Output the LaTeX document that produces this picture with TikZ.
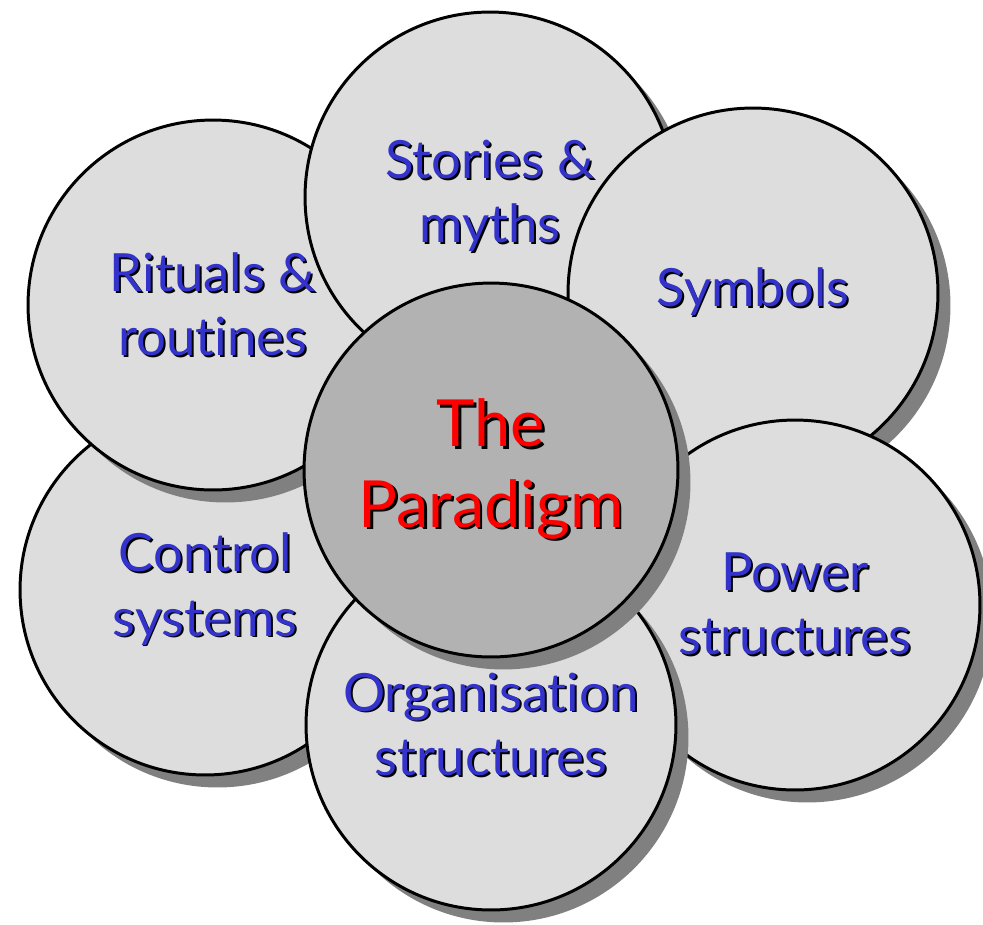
\documentclass[tikz,border=0pt]{standalone}
\usepackage{fontspec}
\setmainfont{Lato}[Ligatures=NoCommon]
\usepackage{tikz}
\usetikzlibrary{shadows}
\definecolor{discFill}{RGB}{221,221,221}
\definecolor{hubFill}{RGB}{178,178,178}
\definecolor{discShadow}{RGB}{128,128,128}
\definecolor{labelBlue}{RGB}{51,51,204}
\definecolor{labelRed}{RGB}{255,0,0}
% text with a small black copy behind it
\newcommand{\shtext}[2][1.1pt]{\leavevmode\rlap{\hspace{#1}\raisebox{-#1}{\color{black}#2}}#2}

\begin{document}
\begin{tikzpicture}[x=0.02cm,y=-0.02cm,
	disc/.style={circle,draw=black,line width=1.7pt,fill=discFill,
		minimum size=7.4cm,inner sep=0pt,align=center,text=labelBlue,
		font=\fontsize{30}{36.5}\selectfont,
		drop shadow={shadow xshift=0.25cm,shadow yshift=-0.25cm,fill=discShadow,opacity=1}},
	hub/.style={disc,fill=hubFill,text=labelRed,minimum size=7.48cm,
		font=\fontsize{37}{46}\selectfont}]
		%\draw[help lines,step=50] (0,0) grid (983,924);
		\useasboundingbox (0,0) rectangle (983,924);

		% outer discs, lowest first
		\node[disc] (control) at (205,590) {\shtext{Control}\\\shtext{systems}};
		\node[disc] (rituals) at (213,305) {\shtext{Rituals \&}\\\shtext{routines}};
		\node[disc] (stories) at (490,197) {\shtext{Stories \&}\\\shtext{myths}};
		\node[disc] (symbols) at (753,293) {\shtext{Symbols}};
		\node[disc] (power) at (795,605) {\shtext{Power}\\\shtext{structures}};
		\node[disc] (organisation) at (491,725) {\shtext{Organisation}\\\shtext{structures}};

		% centre disc on top
		\node[hub] (paradigm) at (491,470) {\shtext[1.6pt]{The}\\\shtext[1.6pt]{Paradigm}};
\end{tikzpicture}
\end{document}
